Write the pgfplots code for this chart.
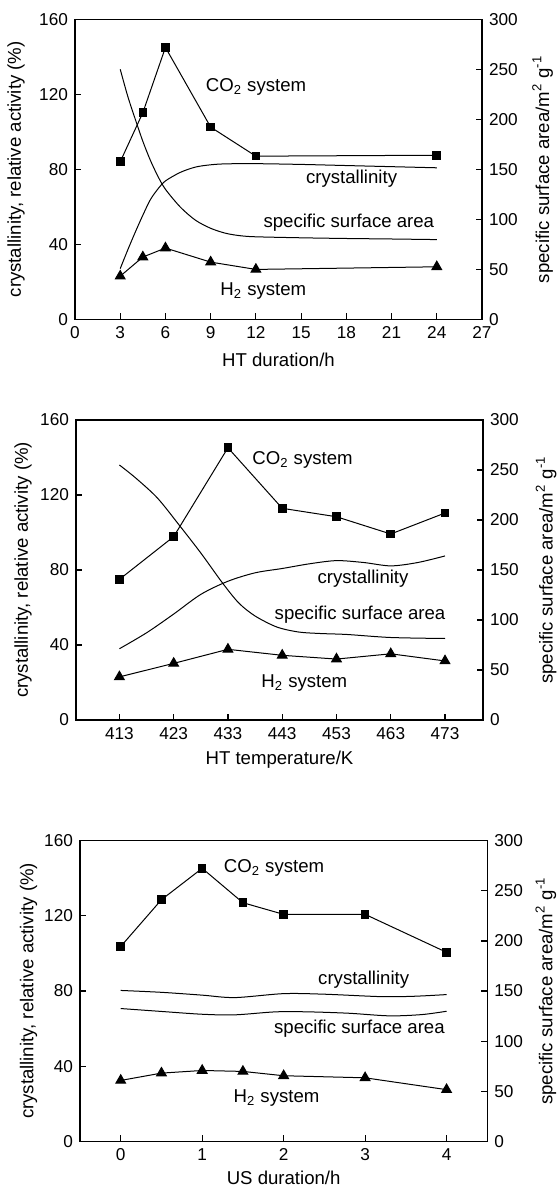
\documentclass[border=0pt]{standalone}
\usepackage{fontspec}
\setmainfont{Liberation Sans}
\usepackage{pgfplots}
\pgfplotsset{compat=1.18}
\pgfplotsset{
  panel/.style={scale only axis, width=203.5pt, height=150pt, anchor=north west,
    tick align=inside, major tick length=3pt,
    axis line style={line width=0.6pt},
    every tick/.append style={line width=0.6pt, black},
    tick label style={font=\fontsize{8.6}{10}\selectfont},
    label style={font=\fontsize{9.3}{11}\selectfont},
    /pgf/number format/assume math mode=true,
    ymin=0, clip=false},
  leftax/.style={panel, ymax=160, ytick={0,40,...,160}, tick pos=left,
    ylabel={crystallinity, relative activity (\%)}},
  rightax/.style={panel, ymax=300, ytick={0,50,...,300},
    axis x line=none, axis y line*=right, y axis line style={-}, xtick=\empty,
    ylabel={specific surface area/m\textsuperscript{2} g\textsuperscript{-1}}},
  dat/.style={black, line width=0.5pt},
  sq/.style={dat, mark=square*, mark size=1.9pt},
  tri/.style={dat, mark=triangle*, mark size=2.8pt},
  crv/.style={dat, smooth, no marks},
}
\begin{document}
\begin{tikzpicture}
\useasboundingbox (0,0) rectangle (279pt,-593pt);
\tikzset{lab/.style={font=\fontsize{9.3}{11}\selectfont, anchor=center, inner sep=0pt}}

% ---------- panel 1: HT duration ----------
\begin{axis}[leftax, at={(37.5pt,-9.65pt)},
    xmin=0, xmax=27, xtick={0,3,...,27},
    xlabel={HT duration/h},
    xlabel style={at={(axis description cs:0.5,-0.136)}, anchor=center},
    ylabel style={at={(axis description cs:-0.145,0.5)}, anchor=center}]
  \addplot[sq] coordinates {(3,84) (4.5,110.2) (6,145) (9,102.5) (12,87) (24,87.5)};
  \addplot[tri] coordinates {(3,23) (4.5,33.2) (6,38) (9,30.5) (12,26.6) (24,28)};
  \addplot[crv] coordinates {(3,27) (3.5,37) (4,46.5) (4.5,55.5) (5,63.8) (5.5,69.5)
    (6,73.8) (7,78.4) (8,81.2) (9,82.4) (10,82.9) (12,83) (15,82.6) (18,82) (21,81.4) (24,80.8)};
\end{axis}
\begin{axis}[rightax, at={(37.5pt,-9.65pt)}, xmin=0, xmax=27,
    ylabel style={at={(axis description cs:1.149,0.5)}, anchor=center}]
  \addplot[crv] coordinates {(3,250) (3.5,223) (4,200) (4.5,178) (5,159) (5.5,143)
    (6,130) (7,112) (8,99) (9,91) (10,86) (11,83.5) (12,82.5) (15,81.5) (18,80.8) (21,80.3) (24,79.7)};
\end{axis}
\node[lab] at (128pt,-43.65pt) {CO\textsubscript{2} system};
\node[lab] at (175.8pt,-89.15pt) {crystallinity};
\node[lab] at (174.4pt,-111.35pt) {specific surface area};
\node[lab] at (131.65pt,-145.5pt) {H\textsubscript{2} system};

% ---------- panel 2: HT temperature ----------
\begin{axis}[leftax, at={(38pt,-210pt)},
    xmin=405, xmax=480, xtick={413,423,...,473},
    xlabel={HT temperature/K},
    xlabel style={at={(axis description cs:0.5,-0.131)}, anchor=center},
    ylabel style={at={(axis description cs:-0.130,0.5)}, anchor=center}]
  \addplot[sq] coordinates {(413,75) (423,97.8) (433,145.2) (443,112.9) (453,108.4) (463,99.2) (473,110.4)};
  \addplot[tri] coordinates {(413,23) (423,30.2) (433,37.7) (443,34.5) (453,32.5) (463,35.3) (473,31.5)};
  \addplot[crv] coordinates {(413,38) (418,46.5) (423,56.5) (428,67) (433,74) (438,78.5)
    (443,80.8) (448,83.3) (453,85) (458,84) (463,82.2) (468,84) (473,87.5)};
\end{axis}
\begin{axis}[rightax, at={(38pt,-210pt)}, xmin=405, xmax=480,
    ylabel style={at={(axis description cs:1.155,0.5)}, anchor=center}]
  \addplot[crv] coordinates {(413,255) (416,242) (420,222) (424,195) (428,167) (432,137)
    (435,117) (438,104) (442,93) (446,88) (450,86.5) (455,85.5) (463,82.5) (473,81.5)};
\end{axis}
\node[lab] at (151.25pt,-230pt) {CO\textsubscript{2} system};
\node[lab] at (181.5pt,-289.5pt) {crystallinity};
\node[lab] at (180pt,-307.15pt) {specific surface area};
\node[lab] at (152.15pt,-341.65pt) {H\textsubscript{2} system};

% ---------- panel 3: US duration ----------
\begin{axis}[leftax, at={(40pt,-420.35pt)}, height=150.3pt, width=203.65pt,
    xmin=-0.5, xmax=4.5, xtick={0,1,2,3,4},
    xlabel={US duration/h},
    xlabel style={at={(axis description cs:0.5,-0.123)}, anchor=center},
    ylabel style={at={(axis description cs:-0.126,0.5)}, anchor=center}]
  \addplot[sq] coordinates {(0,103.7) (0.5,128.6) (1,145.3) (1.5,127) (2,120.8) (3,120.8) (4,100.6)};
  \addplot[tri] coordinates {(0,32.4) (0.5,36.3) (1,37.7) (1.5,37.2) (2,34.9) (3,33.8) (4,27.5)};
  \addplot[crv] coordinates {(0,80.3) (0.5,79.3) (1,77.8) (1.4,76.5) (2,78.6) (2.5,78.3)
    (3.2,77) (3.6,77.2) (4,78.1)};
\end{axis}
\begin{axis}[rightax, at={(40pt,-420.35pt)}, height=150.3pt, width=203.65pt, xmin=-0.5, xmax=4.5,
    ylabel style={at={(axis description cs:1.144,0.5)}, anchor=center}]
  \addplot[crv] coordinates {(0,132.5) (0.5,129.6) (1,126.8) (1.4,126.2) (1.9,129.2) (2.3,129.2)
    (2.8,127.8) (3.3,125.2) (3.7,126.5) (4,129.8)};
\end{axis}
\node[lab] at (137pt,-434.15pt) {CO\textsubscript{2} system};
\node[lab] at (181.85pt,-490pt) {crystallinity};
\node[lab] at (179.7pt,-514.5pt) {specific surface area};
\node[lab] at (138.25pt,-549.15pt) {H\textsubscript{2} system};
\end{tikzpicture}
\end{document}
